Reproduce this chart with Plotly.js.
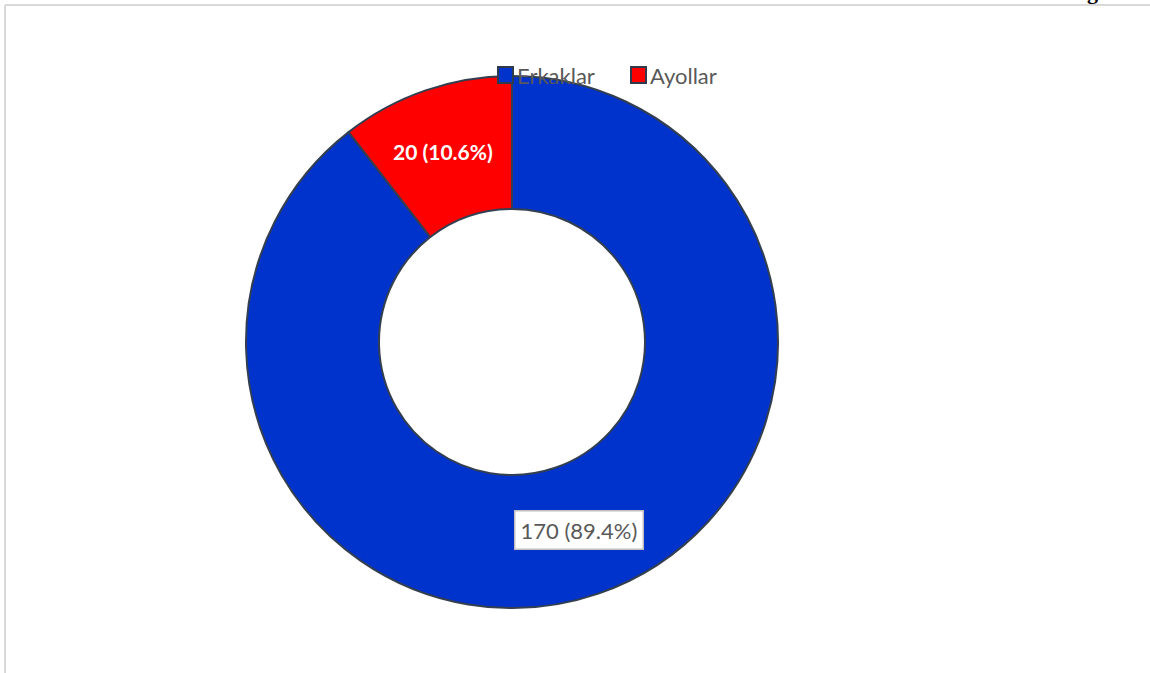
<!DOCTYPE html>
<html>
<head>
<meta charset="utf-8">
<script src="https://cdn.plot.ly/plotly-3.0.1.min.js"></script>
<style>html,body{margin:0;padding:0;background:#fff;}#chart{width:1150px;height:673px;}</style>
</head>
<body>
<div id="chart"></div>
<script>
var labels = ["Erkaklar", "Ayollar"];
var values = [170, 20];
var percents = [89.4, 10.6];
var colors = ["#0033cc", "#ff0000"];

var W = 1150, H = 673;
var cx = 512, cy = 342, R = 266, hole = 0.5;
var total = values.reduce(function(a, b){ return a + b; }, 0);
var FONT = "Lato, 'Open Sans', sans-serif";

var trace = {
  type: "pie",
  labels: labels,
  values: values,
  sort: false,
  direction: "clockwise",
  rotation: 0,
  hole: hole,
  textinfo: "none",
  hoverinfo: "label+value+percent",
  marker: { colors: colors, line: { color: "#333f50", width: 2 } },
  domain: { x: [(cx - R) / W, (cx + R) / W], y: [(H - cy - R) / H, (H - cy + R) / H] }
};

function px2x(p){ return p / W; }
function py2y(p){ return 1 - p / H; }

var annotations = [];
var shapes = [];

// slice labels at the middle of each slice
var cum = 0;
var rMid = R * (1 + hole) / 2;
for (var i = 0; i < values.length; i++) {
  var mid = (cum + values[i] / 2) / total * 2 * Math.PI;
  cum += values[i];
  var px = cx + rMid * Math.sin(mid);
  var py = cy - rMid * Math.cos(mid);
  var txt = values[i] + " (" + percents[i].toFixed(1) + "%)";
  var isFirst = (i === 0);
  annotations.push({
    xref: "paper", yref: "paper",
    x: px2x(isFirst ? px + 2 : px - 4), y: py2y(isFirst ? py - 1 : py - 2),
    xanchor: "center", yanchor: "middle",
    text: isFirst ? txt : "<b>" + txt + "</b>",
    showarrow: false,
    font: { family: FONT, size: isFirst ? 22 : 21, color: isFirst ? "#595959" : "#ffffff" },
    bgcolor: isFirst ? "#ffffff" : "rgba(0,0,0,0)",
    bordercolor: isFirst ? "#bfbfbf" : "rgba(0,0,0,0)",
    borderwidth: isFirst ? 1.5 : 0,
    borderpad: isFirst ? 5 : 0
  });
}

// legend (top, horizontal) built from labels and colours
var legendX = [498, 631];
var legendY = 75;
for (var j = 0; j < labels.length; j++) {
  shapes.push({
    type: "rect", xref: "paper", yref: "paper",
    x0: px2x(legendX[j]), x1: px2x(legendX[j] + 15),
    y0: py2y(legendY + 8), y1: py2y(legendY - 8),
    fillcolor: colors[j], line: { color: "#2f3b4c", width: 2 }
  });
  annotations.push({
    xref: "paper", yref: "paper", x: px2x(legendX[j] + 18), y: py2y(legendY),
    xanchor: "left", yanchor: "middle", showarrow: false, borderpad: 0,
    text: labels[j], font: { family: FONT, size: 22, color: "#595959" }
  });
}

// partially cropped title glyph at top right
annotations.push({
  xref: "paper", yref: "paper", x: px2x(1092), y: py2y(5),
  xanchor: "center", yanchor: "bottom", showarrow: false, borderpad: 0,
  text: "<b>g</b>", font: { family: "'Liberation Serif', serif", size: 22, color: "#000" }
});

// frame lines
shapes.push({ type: "line", xref: "paper", yref: "paper", x0: px2x(5), x1: 1, y0: py2y(5), y1: py2y(5), line: { color: "#d9d9d9", width: 2 } });
shapes.push({ type: "line", xref: "paper", yref: "paper", x0: px2x(5), x1: px2x(5), y0: 0, y1: py2y(5), line: { color: "#d9d9d9", width: 2 } });

var layout = {
  width: W, height: H,
  margin: { l: 0, r: 0, t: 0, b: 0 },
  paper_bgcolor: "#ffffff",
  showlegend: false,
  annotations: annotations,
  shapes: shapes
};

Plotly.newPlot("chart", [trace], layout, { displayModeBar: false, staticPlot: true });
</script>
</body>
</html>
